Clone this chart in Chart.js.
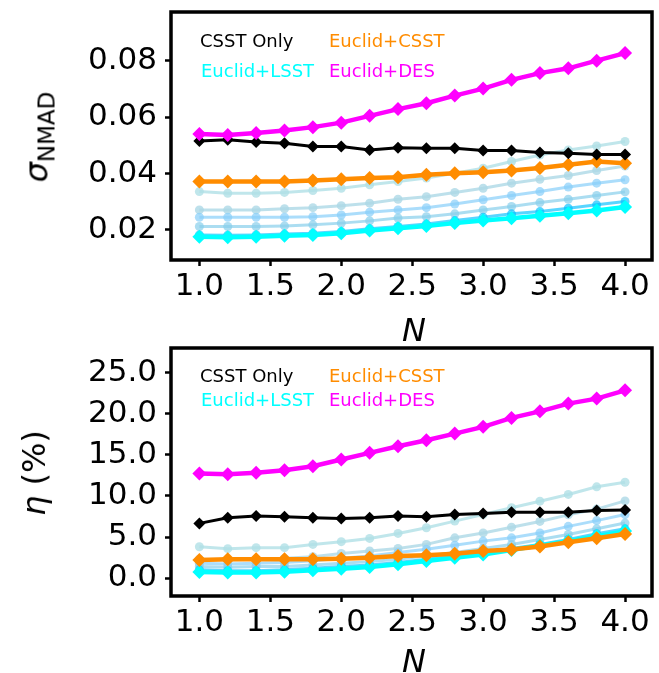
<!DOCTYPE html>
<html>
<head>
<meta charset="utf-8">
<script src="https://cdn.jsdelivr.net/npm/chart.js@4.4.0/dist/chart.umd.min.js"></script>
<style>
body { margin: 0; background: #fff; font-family: "DejaVu Sans", sans-serif; }
#wrap { position: relative; width: 659px; height: 673px; overflow: hidden; }
canvas { position: absolute; left: 0; }
.leg { position: absolute; white-space: nowrap; font-size: 18px; line-height: 18px; }
.ytitle { position: absolute; white-space: nowrap; font-size: 32px; line-height: 32px; transform: translate(-50%, -50%) rotate(-90deg); }
.xtitle { position: absolute; font-size: 32px; line-height: 32px; font-style: italic; transform: translate(-50%, -50%); }
</style>
</head>
<body>
<div id="wrap">
  <canvas id="topChart" width="659" height="336" style="top:0px"></canvas>
  <canvas id="botChart" width="659" height="336" style="top:336px"></canvas>

  <div class="ytitle" style="left:38px; top:137px;"><i>σ</i><span style="font-size:23px; position:relative; top:7px;">NMAD</span></div>
  <div class="ytitle" style="left:34px; top:473px;"><i>η</i> (%)</div>
  <div class="xtitle" style="left:414px; top:330px;">N</div>
  <div class="xtitle" style="left:414px; top:661px;">N</div>

  <div class="leg" style="left:200px; top:32px; color:#000;">CSST Only</div>
  <div class="leg" style="left:329px; top:32px; color:#ff8c00;">Euclid+CSST</div>
  <div class="leg" style="left:201px; top:62px; color:#00ffff;">Euclid+LSST</div>
  <div class="leg" style="left:329px; top:62px; color:#ff00ff;">Euclid+DES</div>

  <div class="leg" style="left:200px; top:367px; color:#000;">CSST Only</div>
  <div class="leg" style="left:329px; top:367px; color:#ff8c00;">Euclid+CSST</div>
  <div class="leg" style="left:201px; top:391px; color:#00ffff;">Euclid+LSST</div>
  <div class="leg" style="left:329px; top:391px; color:#ff00ff;">Euclid+DES</div>
</div>

<script>
// x values
const N = [1.0, 1.2, 1.4, 1.6, 1.8, 2.0, 2.2, 2.4, 2.6, 2.8, 3.0, 3.2, 3.4, 3.6, 3.8, 4.0];

// sigma_NMAD
const sigmaCSST        = [0.0516, 0.0520, 0.0512, 0.0508, 0.0496, 0.0496, 0.0484, 0.0492, 0.0490, 0.0490, 0.0482, 0.0482, 0.0475, 0.0472, 0.0468, 0.0468];
const sigmaEuclidCSST  = [0.0372, 0.0372, 0.0372, 0.0372, 0.0375, 0.0380, 0.0384, 0.0387, 0.0396, 0.0401, 0.0405, 0.0411, 0.0420, 0.0431, 0.0443, 0.0437];
const sigmaEuclidLSST  = [0.0176, 0.0174, 0.0176, 0.0179, 0.0182, 0.0188, 0.0198, 0.0206, 0.0214, 0.0224, 0.0233, 0.0241, 0.0250, 0.0259, 0.0269, 0.0281];
const sigmaEuclidDES   = [0.0541, 0.0537, 0.0544, 0.0553, 0.0565, 0.0581, 0.0605, 0.0629, 0.0650, 0.0677, 0.0702, 0.0733, 0.0757, 0.0774, 0.0801, 0.0828];
const sigmaFaint1 = [0.0336, 0.0330, 0.0330, 0.0333, 0.0340, 0.0348, 0.0360, 0.0372, 0.0384, 0.0401, 0.0419, 0.0443, 0.0466, 0.0484, 0.0498, 0.0514];
const sigmaFaint2 = [0.0271, 0.0271, 0.0271, 0.0275, 0.0279, 0.0286, 0.0295, 0.0309, 0.0318, 0.0333, 0.0348, 0.0366, 0.0380, 0.0393, 0.0411, 0.0427];
const sigmaFaint3 = [0.0245, 0.0245, 0.0245, 0.0245, 0.0247, 0.0253, 0.0263, 0.0271, 0.0279, 0.0292, 0.0307, 0.0322, 0.0336, 0.0352, 0.0366, 0.0378];
const sigmaFaint4 = [0.0212, 0.0212, 0.0212, 0.0214, 0.0218, 0.0224, 0.0232, 0.0242, 0.0247, 0.0257, 0.0271, 0.0283, 0.0297, 0.0309, 0.0322, 0.0335];
const sigmaFaint5 = [0.0182, 0.0181, 0.0182, 0.0185, 0.0188, 0.0194, 0.0204, 0.0212, 0.0221, 0.0233, 0.0245, 0.0257, 0.0265, 0.0277, 0.0289, 0.0301];

// eta (%)
const etaCSST        = [6.66, 7.35, 7.55, 7.47, 7.35, 7.27, 7.35, 7.55, 7.47, 7.75, 7.87, 8.03, 8.03, 8.03, 8.24, 8.28];
const etaEuclidCSST  = [2.19, 2.28, 2.28, 2.28, 2.28, 2.36, 2.48, 2.68, 2.78, 2.95, 3.29, 3.49, 3.85, 4.35, 4.85, 5.36];
const etaEuclidLSST  = [0.73, 0.66, 0.66, 0.78, 0.94, 1.14, 1.34, 1.67, 2.07, 2.48, 2.88, 3.41, 3.98, 4.50, 5.11, 5.72];
const etaEuclidDES   = [12.74, 12.66, 12.83, 13.14, 13.63, 14.45, 15.26, 16.06, 16.79, 17.61, 18.43, 19.52, 20.32, 21.26, 21.87, 22.88];
const etaFaint1 = [3.82, 3.58, 3.70, 3.70, 4.10, 4.43, 4.83, 5.44, 6.13, 6.94, 7.75, 8.57, 9.37, 10.19, 11.12, 11.68];
const etaFaint2 = [2.3, 2.2, 2.3, 2.4, 2.6, 3.0, 3.3, 3.6, 4.1, 4.9, 5.5, 6.2, 6.9, 7.7, 8.4, 9.4];
const etaFaint3 = [1.8, 1.7, 1.8, 1.9, 2.1, 2.4, 2.7, 3.1, 3.5, 4.0, 4.5, 4.9, 5.5, 6.3, 7.0, 7.75];
const etaFaint4 = [1.4, 1.3, 1.4, 1.4, 1.6, 1.8, 2.0, 2.3, 2.7, 3.1, 3.6, 4.1, 4.7, 5.3, 6.0, 6.7];
const etaFaint5 = [1.0, 0.9, 0.9, 1.0, 1.2, 1.4, 1.6, 1.9, 2.3, 2.7, 3.1, 3.6, 4.1, 4.7, 5.4, 6.0];

// tick labels
const xTicks = [1.0, 1.5, 2.0, 2.5, 3.0, 3.5, 4.0];
const sigmaTicks = [0.02, 0.04, 0.06, 0.08];
const etaTicks = [0.0, 5.0, 10.0, 15.0, 20.0, 25.0];

const faintColors = ['rgba(176,224,230,0.8)', 'rgba(173,216,230,0.8)', 'rgba(135,206,250,0.7)', 'rgba(135,206,235,0.7)', 'rgba(0,191,255,0.65)'];

function pts(ys) {
    return ys.map((y, i) => ({ x: N[i], y: y }))
}

function mainLine(label, ys, color, width, radius) {
    return {
        label: label,
        data: pts(ys),
        borderColor: color,
        backgroundColor: color,
        borderWidth: width,
        pointStyle: 'rectRot',
        pointRadius: radius,
        pointBorderWidth: 0,
        tension: 0
    }
}

function faintLine(ys, color) {
    return {
        label: '',
        data: pts(ys),
        borderColor: color,
        backgroundColor: color,
        borderWidth: 3,
        pointStyle: 'circle',
        pointRadius: 4.5,
        pointBorderWidth: 0,
        tension: 0
    }
}

const framePlugin = {
    id: 'frame',
    afterDraw(chart) {
        const a = chart.chartArea
        const ctx = chart.ctx
        ctx.save()
        ctx.strokeStyle = '#000'
        ctx.lineWidth = 3.5
        ctx.strokeRect(a.left, a.top, a.right - a.left, a.bottom - a.top)
        ctx.restore()
    }
}

function makeChart(id, datasets, yMin, yMax, yTicks, yDigits) {
    const tickFont = { family: 'DejaVu Sans', size: 31 }
    return new Chart(document.getElementById(id), {
        type: 'line',
        data: { datasets: datasets },
        plugins: [framePlugin],
        options: {
            responsive: false,
            animation: false,
            devicePixelRatio: 1,
            layout: { padding: { top: 12, right: 3, left: 0, bottom: 0 } },
            plugins: { legend: { display: false }, tooltip: { enabled: false } },
            scales: {
                x: {
                    type: 'linear',
                    min: 0.8,
                    max: 4.19,
                    afterBuildTicks: (s) => { s.ticks = xTicks.map(v => ({ value: v })) },
                    afterFit: (s) => { s.height = 76; s.paddingLeft = 0; s.paddingRight = 0 },
                    ticks: { font: tickFont, color: '#000', padding: 2, maxRotation: 0, autoSkip: false,
                             callback: (v) => v.toFixed(1) },
                    grid: { drawOnChartArea: false, drawTicks: true, tickLength: 6, tickWidth: 2.5, tickColor: '#000' },
                    border: { display: false }
                },
                y: {
                    min: yMin,
                    max: yMax,
                    afterBuildTicks: (s) => { s.ticks = yTicks.map(v => ({ value: v })) },
                    afterFit: (s) => { s.width = 171; s.paddingTop = 0; s.paddingBottom = 0 },
                    ticks: { font: tickFont, color: '#000', padding: 8, autoSkip: false,
                             callback: (v) => v.toFixed(yDigits) },
                    grid: { drawOnChartArea: false, drawTicks: true, tickLength: 6, tickWidth: 2.5, tickColor: '#000' },
                    border: { display: false }
                }
            }
        }
    })
}

const topSets = [
    mainLine('Euclid+DES', sigmaEuclidDES, '#ff00ff', 4.5, 7),
    mainLine('CSST Only', sigmaCSST, '#000000', 3, 6),
    mainLine('Euclid+CSST', sigmaEuclidCSST, '#ff8c00', 4.5, 7),
    mainLine('Euclid+LSST', sigmaEuclidLSST, '#00ffff', 4.5, 7),
    faintLine(sigmaFaint5, faintColors[4]),
    faintLine(sigmaFaint4, faintColors[3]),
    faintLine(sigmaFaint3, faintColors[2]),
    faintLine(sigmaFaint2, faintColors[1]),
    faintLine(sigmaFaint1, faintColors[0])
]

const botSets = [
    mainLine('Euclid+DES', etaEuclidDES, '#ff00ff', 4.5, 7),
    mainLine('CSST Only', etaCSST, '#000000', 3, 6),
    mainLine('Euclid+CSST', etaEuclidCSST, '#ff8c00', 4.5, 7),
    mainLine('Euclid+LSST', etaEuclidLSST, '#00ffff', 4.5, 7),
    faintLine(etaFaint5, faintColors[4]),
    faintLine(etaFaint4, faintColors[3]),
    faintLine(etaFaint3, faintColors[2]),
    faintLine(etaFaint2, faintColors[1]),
    faintLine(etaFaint1, faintColors[0])
]

makeChart('topChart', topSets, 0.0093, 0.0974, sigmaTicks, 2)
makeChart('botChart', botSets, -2.19, 28.04, etaTicks, 1)
</script>
</body>
</html>
